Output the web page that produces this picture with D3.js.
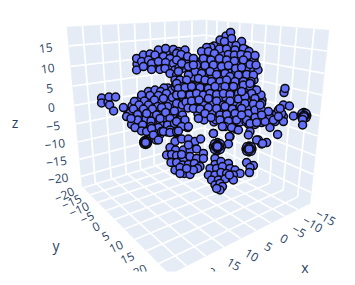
<!DOCTYPE html>
<html><head><meta charset="utf-8">
<script src="https://cdn.jsdelivr.net/npm/d3@7"></script>
<style>html,body{margin:0;padding:0;background:#fff}svg{display:block}text{font-family:"Open Sans",sans-serif;fill:#2a3f5f}</style>
</head><body>
<svg id="c" width="355" height="285"></svg>
<script>
// axis tick values
const xTicks=[-15,-10,-5,0,5,10,15,20];
const yTicks=[-20,-15,-10,-5,0,5,10,15,20];
const zTicks=[-20,-15,-10,-5,0,5,10,15];
// scene ranges
const xRange=[-20,24], yRange=[-21,24], zRange=[-23,19.5];
// marker positions, in projected view units (depth is not recoverable)
const leftIsland=[[-39.2,16],[-39.2,13.5],[-36,14],[-35.5,16.5],[-32.2,16.5],[-35.2,12.5],[-33.2,9.5]];
const blobUnder=[[-25,9],[-19,16],[-14,18],[-8,17],[-4,13],[-8,14],[-12,13],[-17,12],[-21,9.5],[-14,8],[-9,9],[-5,8],[-1,10],[-19,6],[-12,5],[-7,4],[-3,6],[-17,3],[-12,2.5],[-8,0.5],[-3,1],[-20,3],[-15,-1],[-11,-3],[-23,8],[-24,12],[-26,9],[-20,15],[-6,21],[-3,19],[-25,8.5],[-23,6],[-22.5,3.5],[-19.5,0.5],[-20,5.5],[-17,5.5],[-16,10],[-13,8],[-10,3],[-7,6],[-3.5,7.5],[-0.5,2.5],[-13,-1],[-10,-2.2],[-6.5,-1],[-3,-1],[-15.5,14.5],[-19,12.5],[-10,14.5],[-5.5,14],[0,15],[0.5,10],[-8,21],[-4,20],[-13,18.5]];
const leftBlob=[[-15.8,19.2],[-12.5,20],[-9.7,19.2],[-6.8,18.3],[-2.5,21.7],[1.2,20],[-19.2,17.5],[-15,17.2],[-10.8,17.2],[-1.7,17.8],[1.2,16.7],[-22.8,14.2],[-17.8,14.5],[-12.8,15],[-8.3,15.8],[-3.8,16.2],[-20.5,12.5],[-15.8,12.5],[-11.2,11.7],[-6.2,11.7],[-1.7,13.3],[1.2,12.5],[-23.3,10.5],[-18.3,10.5],[-13.8,10.5],[-9.2,11.2],[-21.2,7.8],[-16.7,8.3],[-11.7,7.5],[-7.2,8.8],[-2.8,9.5],[1.2,7.5],[-24.2,2.8],[-21.2,5],[-14.5,4.5],[-10,5.8],[-5,5.8],[-0.8,5],[-22.5,1.2],[-18.7,2.5],[-14.5,1.7],[-10.8,1.2],[-6.2,2.5],[-2.8,3.3],[1.2,3.8],[-16.7,-0.5],[-12.8,-1.7],[-9.2,-0.8],[-5,0],[-1.7,-1.3],[-28.3,11.2],[-26.7,6.7],[-24.5,5.8],[-12,-5],[-19.2,-0.5],[-16.7,-0.8],[-14.2,0.8],[-8.3,-0.8],[-5,-1.2],[-1.7,-0.8],[3.8,1.2],[-13.3,-2.5],[-10.8,-5]];
const topArmUnder=[[-21.5,33],[-17,34],[-12,36],[-6,38],[-1,37.5],[-12,32],[-5,32],[-9,35],[0,32],[-2,27],[-16,36.5],[-10,32],[-2,23],[-3,38],[1,38]];
const topArm=[[-21.7,35.8],[-21.7,30],[-18.3,37.5],[-15,38],[-10.8,40],[-7.2,40.8],[-3.3,40.3],[-0.8,39.2],[2.5,40],[-19.2,34.2],[-15.8,35],[-12.5,37.5],[-8.3,36.7],[-5,35.8],[-0.8,35.8],[1.7,36.7],[-18.3,31.7],[-14.2,33.3],[-10.8,34.2],[-7.2,33.7],[-3.3,33.3],[0.5,34.2],[-14.2,30.3],[-10,30.3],[-7.5,30.8],[-2.5,30],[1.2,30.8],[-5,28.3],[-1.7,27.5],[-2.5,25],[0,25],[1.2,21.7],[-0.8,21.7]];
const massUnder=[[24,43],[21,38],[26,36],[31,38],[35,36],[14,37],[10,34],[18,34],[22,32],[26,29],[32,32],[36,30],[6,30],[11,30],[16,27],[20,27],[24,29],[30,24],[34,26],[8,24],[14,22],[19,23],[26,22],[33,23],[4,20],[9,19],[13,19],[19,19],[24,19],[31,20],[35,19],[3,14],[8,13],[12,13],[16,13],[21,15],[27,13],[32,12],[36,12],[9,8],[14,8],[18,8],[22,9],[26,7],[30,6],[34,6],[38,7],[22,4],[26,3],[37,35],[39,30],[29,42],[23,47],[0,19],[3,23],[6,19],[28,16],[24,12],[30,9],[38,16],[41,15],[36,4],[11,6],[17,4],[17,42],[12,36.5],[9.5,33],[5,30.5],[3,33.5],[-0.5,31],[6,26],[12,28],[17.5,30],[22,30],[28,32.5],[33,30],[37,25],[30,37],[26,38],[26,43],[33,40],[20,33],[14,24],[10,23],[16,22.5],[23,23],[29,23],[34,19.5],[38,19],[2,18],[7,16],[13,16],[17,16],[23,16],[27,16],[31,14],[35,15],[39,12],[4,11],[8,11],[12,10],[16,9],[20,11],[24,10],[28,10],[32,10],[36,9],[12,5],[18,5],[23,6],[26,4],[30,4],[33,4],[36,6]];
const centralMass=[[25.3,48.8],[25.8,45.8],[20,45],[22.2,44.2],[30.8,44.2],[28,42.2],[19.7,40.5],[23.3,40.5],[27.5,40],[31.7,40.8],[34.5,39.2],[15.5,41.3],[13.3,41.2],[10.8,39.2],[14.2,39.2],[17.2,38.3],[24.2,37.8],[27.2,37.5],[30.5,37.8],[33.8,37.2],[37.5,37.2],[11.7,35.8],[15.5,35],[19.7,35.8],[23.3,35],[27.2,34.5],[31.7,35],[35,32.8],[38,32.5],[8.3,32.5],[12.5,32.2],[16.7,32.5],[20.8,31.7],[24.2,32.2],[27.8,30.8],[30.8,31.2],[7.5,29.2],[10.8,28.3],[15,29.2],[18.3,27.8],[22.5,28.3],[25,26.7],[29.2,27.5],[33.3,27.8],[36.7,27.5],[9.2,25.8],[12.5,25],[15.8,24.2],[20,24.2],[23.3,25],[27.5,24.2],[31.7,24.2],[35.5,24.2],[5.8,22.5],[9.2,21.7],[13.3,20.8],[16.7,20.8],[20.8,21.2],[24.2,20.8],[27.5,20.8],[32.5,20.8],[36.2,20.8],[-1.7,38.3],[0.5,37.8],[3.8,36.7],[6.7,35.8],[-1.7,35],[0.8,33.3],[4.2,31.7],[6.7,32.5],[-0.8,29.2],[4.2,27.5],[0,25],[3.3,25],[-1.7,23.3],[1.7,21.7],[-0.8,20.8],[2.5,21.2],[5.8,21.7],[10,21.2],[14.2,20.8],[17.5,21.7],[22.5,21.7],[26.7,21.7],[30.8,21.7],[35,21.7],[-1.7,17.5],[0.8,17.8],[5,17.5],[8.3,18.3],[11.7,17.5],[15,18.3],[18.3,17.8],[21.7,18.3],[25,17.8],[29.2,18.3],[32.5,17.5],[36.7,18.3],[5.8,14.5],[9.5,15],[14.2,15.8],[18.3,14.5],[21.7,12.5],[25,14.5],[29.2,15.5],[33.3,14.2],[37.5,14.2],[40.5,17.5],[6.7,10.8],[10,10.5],[14.2,11.2],[18.3,10.8],[22.5,11.7],[26.2,10.5],[30,11.7],[34.2,10.8],[37.5,10.8],[40.8,13.3],[9.2,5.8],[12.5,8.3],[15.5,6.2],[20,7.5],[23.3,7.8],[27.5,8.3],[31.7,7.5],[35.8,8.3],[39.2,8.3],[20,5],[24.2,4.5],[28.3,5],[34.5,2.8],[37.5,2.8],[39.2,5],[16.7,-1.7],[25,-3.3],[22.5,1.7],[28.3,0.3],[-1.7,4.2],[2.5,5],[0.8,1.7],[4.2,1.7],[-0.8,-0.5]];
const rightArm=[[31.7,22.5],[35,23.3],[38.3,20],[35.8,18.3],[32.5,16.7],[30.8,19.2],[37.5,15.8],[32.5,13.3],[36.7,13],[30.8,10.8],[34.2,8.3],[37.5,10],[40.8,10],[37.5,6.3],[33.3,5],[30.8,7.5],[35,3.3],[40.8,3.7],[38.3,3.7],[45,7],[48.3,8.3],[49.2,10],[51.7,6.7],[51.7,4.2],[45,1.3],[48.8,-2.2],[50.8,8.3],[51.7,12.5],[54.7,12],[52,18.7],[52.5,20.8],[56.7,7],[47.5,4.2],[42.5,4.2],[44.2,9.2],[40.8,7.5],[40,12.5],[43.3,-6.3],[40.8,-7],[39.2,-5],[50,10.8],[46.7,5],[49.2,6.7]];
const rightRing=[[60.6,7.2],[63.4,7.2],[62,8.7],[62,5.8],[61,8.2],[63,8.2],[61,6.2],[63,6.2],[61.6,7],[62.4,7],[62,7.4],[62,6.6],[61.3,5.3],[61.3,2.5]];
const blobA=[[-2.5,-5.8],[0.8,-4.5],[4.2,-4.5],[7.5,-5.8],[10.3,-4.5],[-5,-8.8],[-2.2,-10],[1.7,-10],[5,-10],[8.3,-9.5],[11.7,-11.7],[-6.7,-12.5],[-4.2,-12.2],[-1.7,-12.8],[0.8,-14.5],[2.6,-16],[1.7,-15.5],[5,-13.3],[8.3,-14.2],[11.7,-14.2],[-4.5,-16.2],[-1.7,-16.2],[1.3,-17.5],[4.2,-17.2],[7.2,-16.7],[10,-18.3],[-2.5,-20],[0,-18.8],[2.2,-21.7],[5,-22.2],[8.8,-19.2],[0,-21.7],[0.8,-12.2],[4.2,-7.5],[6.7,-20],[3.3,-19.2]];
const blobB=[[17.5,-14.2],[17.5,-17.2],[20.5,-15.8],[24.2,-16.7],[15,-19.2],[18.3,-19.2],[21.2,-18.3],[25,-19.2],[27.5,-20],[30,-21.7],[14.2,-22.5],[17.5,-22.5],[20.5,-21.2],[23.3,-21.7],[26.7,-22.5],[15.8,-25],[19.2,-25],[22.5,-24.5],[26.7,-25],[17.5,-27.5],[20,-26.7],[21.2,-28.3],[20,-30],[18.3,-29.2],[24.7,-22.5]];
const strays=[[33.3,-16.3],[36.7,-17.8],[35,-18.8],[34.7,-21.3],[38.3,-5],[41.3,-6.7],[16.7,-1.7],[24.7,-3.3],[24.2,-7],[21.2,1.7],[25.8,1.2],[29.2,0],[35,-0.8],[34.2,-2.5]];
const ringA=[[-18.2,-6.2],[-16.2,-6.2],[-17.2,-5.2],[-17.2,-7.2],[-17.9,-5.5],[-16.5,-5.5],[-17.9,-6.9],[-16.5,-6.9],[-17.6,-6.2],[-16.8,-6.2],[-17.2,-5.8],[-17.2,-6.6],[-17.2,-6.2]];
const ringB=[[16.7,-8.3],[20.7,-8.3],[18.7,-6.3],[18.7,-10.3],[17.3,-6.9],[20.1,-9.7],[17.3,-9.7],[20.1,-6.9],[17.7,-8.3],[19.7,-8.3],[18.7,-7.3],[18.7,-9.3],[18.3,-8.3],[19.1,-8.3],[18.7,-7.9],[18.7,-8.7],[18.7,-8.3]];
const ringC=[[33,-9.5],[36,-9.5],[34.5,-8],[34.5,-11],[33.4,-8.4],[35.6,-10.6],[33.4,-10.6],[35.6,-8.4],[33.8,-9.5],[35.2,-9.5],[34.5,-8.8],[34.5,-10.2],[34.5,-9.5]];
const markerGroups=[blobUnder,leftBlob,topArmUnder,topArm,massUnder,centralMass,rightArm,rightRing,blobA,blobB,strays,leftIsland,ringA,ringB,ringC];

const svg=d3.select("#c");
// calibration of the scene's camera on screen
const cB=[203,150],cL=[82,186],cR=[310,203],cF=[170,274],cBT=[206,20],cLT=[67,27],cRT=[329,30];
const h=p=>[p[0],p[1],1];
const cross=(a,b)=>[a[1]*b[2]-a[2]*b[1],a[2]*b[0]-a[0]*b[2],a[0]*b[1]-a[1]*b[0]];
const vp=(a,b,c,d)=>{const q=cross(cross(h(a),h(b)),cross(h(c),h(d)));return[q[0]/q[2],q[1]/q[2]];};
const Vx=vp(cBT,cLT,cR,cF),Vy=vp(cBT,cRT,cL,cF),Vz=vp(cL,cLT,cR,cRT);
const ax=(cL[0]-cB[0])/(Vx[0]-cL[0]),ay=(cR[0]-cB[0])/(Vy[0]-cR[0]),az=(cBT[1]-cB[1])/(Vz[1]-cBT[1]);
const nx=d3.scaleLinear().domain(xRange).range([0,1]),ny=d3.scaleLinear().domain(yRange).range([0,1]),nz=d3.scaleLinear().domain(zRange).range([0,1]);
function project(x,y,z){const a=nx(x)*ax,b=ny(y)*ay,c=nz(z)*az;
  const X=a*Vx[0]+b*Vy[0]+c*Vz[0]+cB[0],Y=a*Vx[1]+b*Vy[1]+c*Vz[1]+cB[1],W=a+b+c+1;return[X/W,Y/W];}
const defs=svg.append("defs");
defs.append("clipPath").attr("id","sc").append("rect").attr("width",355).attr("height",271.5);
const scene=svg.append("g").attr("clip-path","url(#sc)");
const [x0,x1]=xRange,[y0,y1]=yRange,[z0,z1]=zRange;
const line=d3.line();
const walls=[[[x0,y0,z0],[x1,y0,z0],[x1,y0,z1],[x0,y0,z1]],[[x0,y0,z0],[x0,y1,z0],[x0,y1,z1],[x0,y0,z1]],[[x0,y0,z0],[x1,y0,z0],[x1,y1,z0],[x0,y1,z0]]];
scene.selectAll(".wall").data(walls).join("path").attr("fill","#e5ecf6").attr("stroke","#e5ecf6").attr("stroke-width",.5)
  .attr("d",w=>line(w.map(p=>project(...p)))+"Z");
const gridSegs=[];
xTicks.forEach(t=>{gridSegs.push([[t,y0,z0],[t,y1,z0]],[[t,y0,z0],[t,y0,z1]]);});
yTicks.forEach(t=>{gridSegs.push([[x0,t,z0],[x1,t,z0]],[[x0,t,z0],[x0,t,z1]]);});
zTicks.forEach(t=>{gridSegs.push([[x0,y0,t],[x1,y0,t]],[[x0,y0,t],[x0,y1,t]]);});
scene.selectAll(".grid").data(gridSegs).join("path").attr("fill","none").attr("stroke","#fff").attr("stroke-width",1.7)
  .attr("d",s=>line(s.map(p=>project(...p))));
const minus=t=>String(t).replace("-","\u2212");
function tickLabels(ticks,pos,dx,dy,rot){
  scene.selectAll(null).data(ticks).join("text").attr("font-size",12).attr("text-anchor","middle").attr("dominant-baseline","central")
   .attr("transform",t=>{const p=pos(t);return`translate(${p[0]+dx},${p[1]+dy}) rotate(${rot})`;}).text(minus);
}
tickLabels(xTicks,t=>project(t,y1,z0),28,8,30);
tickLabels(yTicks,t=>project(x1,t,z0),-19,7,-25);
tickLabels(zTicks,t=>project(x1,y0,t),-23,2,-7);
const u=d3.scaleLinear().domain([-100,100]).range([-20,380]),v=d3.scaleLinear().domain([-100,100]).range([330,-70]);
const g=scene.append("g");
markerGroups.forEach(gr=>{g.append("g").selectAll("circle").data(gr).join("circle").attr("cx",d=>u(d[0])).attr("cy",d=>v(d[1])).attr("r",4).attr("fill","#636efa").attr("stroke","#0a0a0a").attr("stroke-width",1.5);});
const titles=[["x",305,267],["y",56,245],["z",15,122]];
svg.selectAll(".t").data(titles).join("text").attr("font-size",14).attr("text-anchor","middle").attr("dominant-baseline","central").attr("x",d=>d[1]).attr("y",d=>d[2]).text(d=>d[0]);
</script>
</body></html>
